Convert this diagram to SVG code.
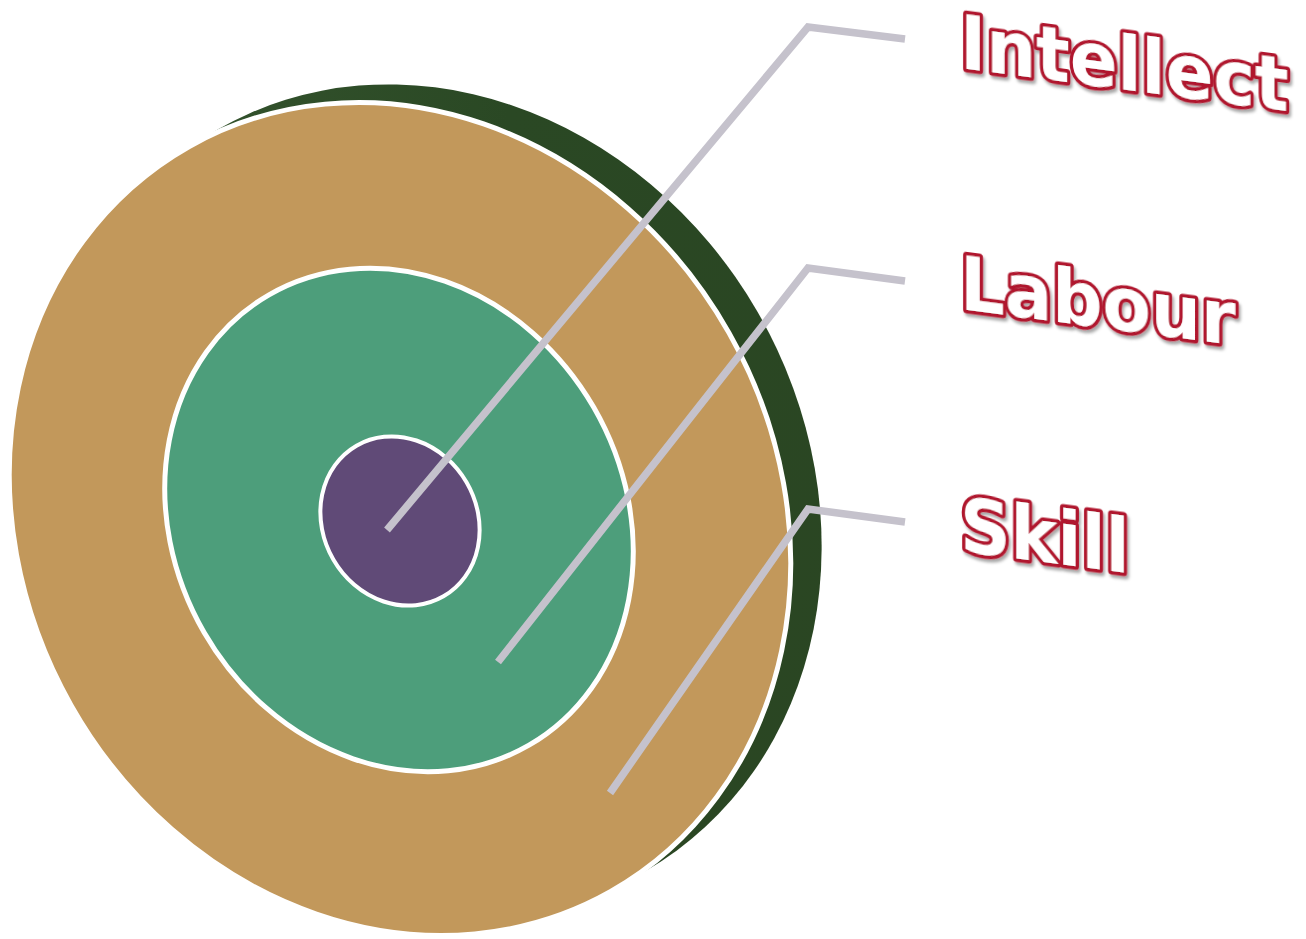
<svg xmlns="http://www.w3.org/2000/svg" width="1306" height="939" viewBox="0 0 1306 939">
<defs>
<style>
.conn{fill:none;stroke:#c5c2cc;stroke-width:7.5;stroke-linejoin:miter;stroke-linecap:butt}
.lbl{font-family:"DejaVu Sans","Verdana",sans-serif;font-weight:bold;font-size:74px;fill:#ffffff;stroke:#b0192d;stroke-width:7;paint-order:stroke;stroke-linejoin:round;filter:url(#sh)}
</style>
<filter id="sh" x="-10%" y="-20%" width="130%" height="160%">
<feDropShadow dx="2" dy="3" stdDeviation="1.8" flood-color="#000" flood-opacity="0.35"/>
</filter>
<linearGradient id="rim" x1="0" y1="0" x2="1" y2="1">
<stop offset="0" stop-color="#3a5a33"/>
<stop offset="0.5" stop-color="#2a4824"/>
<stop offset="1" stop-color="#2a4522"/>
</linearGradient>
</defs>
<rect width="1306" height="939" fill="#ffffff"/>
<g id="rim-back">
<ellipse cx="0" cy="0" rx="376" ry="428" transform="translate(432 500) rotate(-30)" fill="url(#rim)"/>
</g>
<g id="skill-ring">
<ellipse cx="0" cy="0" rx="378" ry="428" transform="translate(400 519) rotate(-29.5)" fill="#c2985b" stroke="#ffffff" stroke-width="5"/>
</g>
<g id="labour-ring">
<ellipse cx="0" cy="0" rx="225" ry="260" transform="translate(399 520) rotate(-30)" fill="#4d9e7b" stroke="#ffffff" stroke-width="5"/>
</g>
<g id="intellect-core">
<ellipse cx="0" cy="0" rx="77" ry="87" transform="translate(400 521) rotate(-30)" fill="#604a77" stroke="#ffffff" stroke-width="4"/>
</g>
<g id="connectors">
<polyline class="conn" points="387,530 808,27 905,39"/>
<polyline class="conn" points="498,662 808,268 905,281"/>
<polyline class="conn" points="610,793 808,509 905,522"/>
</g>
<g id="label-intellect">
<text class="lbl" x="0" y="0" transform="translate(960 68) skewY(7.5) scale(0.95 1)">Intellect</text>
</g>
<g id="label-labour">
<text class="lbl" x="0" y="0" transform="translate(960 309) skewY(7.5) scale(0.95 1)">Labour</text>
</g>
<g id="label-skill">
<text class="lbl" x="0" y="0" transform="translate(960 551) skewY(7.5) scale(0.95 1)">Skill</text>
</g>
</svg>
